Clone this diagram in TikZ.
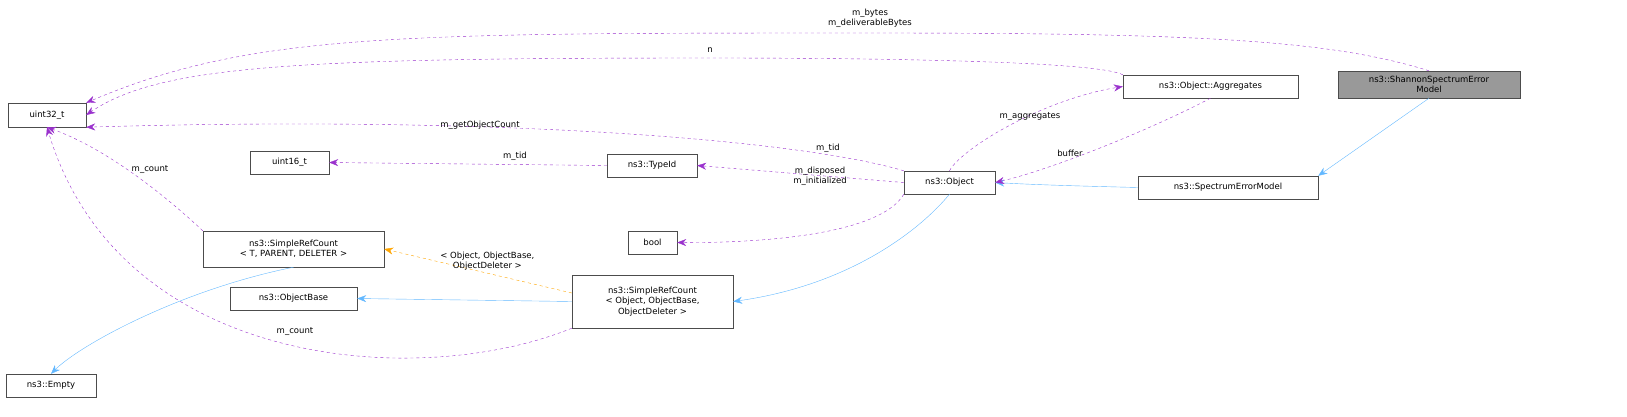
\documentclass[tikz,border=0pt]{standalone}
\usepackage{fontspec}
\setmainfont{DejaVu Sans}
\usetikzlibrary{arrows.meta,positioning}
\definecolor{refline}{HTML}{9A32CD}
\definecolor{inhline}{HTML}{63B8FF}
\definecolor{tmplline}{HTML}{FFA500}
\begin{document}
\begin{tikzpicture}[x=1pt,y=-1pt,
    cls/.style={rectangle, draw=black!70, fill=white, align=center, inner sep=0pt, font=\fontsize{8.5}{10.5}\selectfont},
    member/.style={dashed, draw=refline, -{Stealth[length=9pt,width=7pt]}},
    inherit/.style={draw=inhline, -{Stealth[length=9pt,width=7pt]}},
    tmpl/.style={dashed, draw=tmplline, -{Stealth[length=9pt,width=7pt]}},
    lbl/.style={font=\fontsize{8.5}{10}\selectfont, align=center, inner sep=1pt}
]
    \useasboundingbox (0,0) rectangle (1627,416);

    % Klassen
    \node[cls, fill=black!40, minimum width=182pt, minimum height=27pt] (shannon) at (1429,84.5) {ns3::ShannonSpectrumError\\Model};
    \node[cls, minimum width=78pt, minimum height=24pt] (uint32) at (47,115) {uint32\_t};
    \node[cls, minimum width=175pt, minimum height=23pt] (aggr) at (1210.5,86.5) {ns3::Object::Aggregates};
    \node[cls, minimum width=91pt, minimum height=23pt] (object) at (949.5,182.5) {ns3::Object};
    \node[cls, minimum width=180pt, minimum height=23pt] (sem) at (1228,187.5) {ns3::SpectrumErrorModel};
    \node[cls, minimum width=79pt, minimum height=23pt] (uint16) at (289.5,162.5) {uint16\_t};
    \node[cls, minimum width=90pt, minimum height=23pt] (typeid) at (652,165.5) {ns3::TypeId};
    \node[cls, minimum width=49pt, minimum height=23pt] (bool) at (652.5,242.5) {bool};
    \node[cls, minimum width=181pt, minimum height=36pt] (srcT) at (293.5,249) {ns3::SimpleRefCount\\< T, PARENT, DELETER >};
    \node[cls, minimum width=127pt, minimum height=23pt] (objbase) at (293.5,298.5) {ns3::ObjectBase};
    \node[cls, minimum width=161pt, minimum height=53pt] (srcO) at (652.5,301.5) {ns3::SimpleRefCount\\< Object, ObjectBase,\\ObjectDeleter >};
    \node[cls, minimum width=90pt, minimum height=23pt] (empty) at (51,385.5) {ns3::Empty};

    % Vererbung
    \draw[inherit] (shannon.south) -- (sem.north east);
    \draw[inherit] (sem.west) .. controls (1080,186) and (1040,185) .. (object.east);
    \draw[inherit] (object.south) .. controls (920,230) and (850,285) .. (srcO.east);
    \draw[inherit] (srcO.west) -- (objbase.east);
    \draw[inherit] (srcT.south) .. controls (180,290) and (80,345) .. (empty.north);
    \draw[tmpl] (srcO.west |- 0,293) -- node[lbl, above, pos=0.45, yshift=2pt] {< Object, ObjectBase,\\ObjectDeleter >} (srcT.east);

    % Attribute
    \draw[member] (shannon.north) .. controls (1330,40) and (1200,33) .. (870,33) .. controls (400,33) and (250,33) .. (uint32.north east);
    \node[lbl] (lbytes) at (870,18) {m\_bytes\\m\_deliverableBytes};
    \draw[member] (aggr.north west) .. controls (1100,62) and (900,58) .. (710,58) .. controls (300,58) and (160,65) .. (uint32.east);
    \node[lbl] (ln) at (710,50) {n};
    \draw[member] (object.north west) .. controls (800,140) and (500,115) .. (uint32.south east);
    \node[lbl] (lcount) at (480,125) {m\_getObjectCount};
    \draw[member] (srcT.north west) .. controls (170,200) and (110,150) .. (uint32.south);
    \node[lbl] (lsrc) at (150,170) {m\_count};
    \draw[member] (srcO.south west) .. controls (420,390) and (120,370) .. (uint32.south);
    \node[lbl] (lsrco) at (295,332) {m\_count};
    \draw[member] (object.north) .. controls (960,150) and (1040,100) .. (aggr.west);
    \node[lbl] (lagg) at (1030,117) {m\_aggregates};
    \draw[member] (aggr.south) .. controls (1150,130) and (1050,170) .. (object.east);
    \node[lbl] (lbuf) at (1070,153) {buffer};
    \draw[member] (object.west) -- (typeid.east);
    \node[lbl] (ltid) at (828,148) {m\_tid};
    \draw[member] (typeid.west) -- (uint16.east);
    \node[lbl] (ltid2) at (515,156) {m\_tid};
    \draw[member] (object.south west) .. controls (880,235) and (760,243) .. (bool.east);
    \node[lbl] (lbool) at (820,176) {m\_disposed\\m\_initialized};
\end{tikzpicture}
\end{document}
